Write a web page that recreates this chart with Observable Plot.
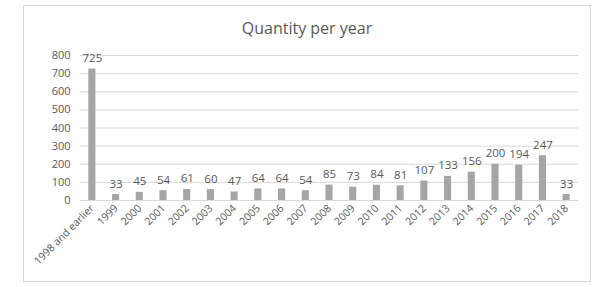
<!DOCTYPE html>
<html><head><meta charset="utf-8">
<script src="https://cdn.jsdelivr.net/npm/d3@7"></script>
<script src="https://cdn.jsdelivr.net/npm/@observablehq/plot@0.6"></script>
<style>
body{margin:0;background:#fff;}
#wrap{position:relative;width:595px;height:287px;overflow:hidden;font-family:"Open Sans",sans-serif;}
#frame{position:absolute;left:23px;top:5px;width:568px;height:277px;border:1px solid #d9d9d9;box-sizing:border-box;}
#title{position:absolute;left:23px;width:568px;top:17px;text-align:center;font-size:16px;color:#595959;}
#chart{position:absolute;left:0;top:0;}
</style></head>
<body><div id="wrap"><div id="frame"></div><div id="title">Quantity per year</div><div id="chart"></div></div>
<script>
const categories = ["1998 and earlier","1999","2000","2001","2002","2003","2004","2005","2006","2007","2008","2009","2010","2011","2012","2013","2014","2015","2016","2017","2018"];
const values = [725,33,45,54,61,60,47,64,64,54,85,73,84,81,107,133,156,200,194,247,33];
const yTicks = [0,100,200,300,400,500,600,700,800];
const data = categories.map((c,i)=>({cat:c, v:values[i]}));
const plot = Plot.plot({
  width:595, height:287,
  marginTop:55, marginBottom:87, marginLeft:80, marginRight:17,
  style:{fontFamily:"Open Sans, sans-serif", fontSize:"11px", color:"#595959", background:"transparent"},
  x:{domain:categories, paddingInner:0.7, paddingOuter:0.35, round:false, label:null},
  y:{domain:[0,800], ticks:yTicks, label:null},
  marks:[
    Plot.ruleY(yTicks,{stroke:"#d9d9d9", strokeWidth:1}),
    Plot.barY(data,{x:"cat", y:"v", fill:"#a5a5a5"}),
    Plot.text(data,{x:"cat", y:"v", text:d=>String(d.v), dy:-7, lineAnchor:"bottom", fill:"#595959", fontSize:11.5}),
    Plot.axisX({tickSize:0, tickRotate:-45, tickPadding:6, fontSize:10.5, fill:"#595959", label:null}),
    Plot.axisY({ticks:yTicks, tickSize:0, tickPadding:10, fontSize:11, fill:"#595959", label:null})
  ]
});
document.getElementById("chart").appendChild(plot);
</script></body></html>
